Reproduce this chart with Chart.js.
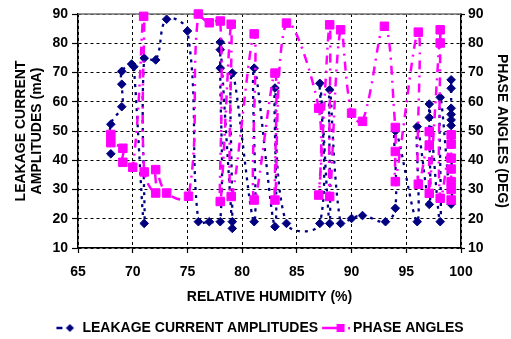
<!DOCTYPE html>
<html>
<head>
<meta charset="utf-8">
<script src="https://cdn.jsdelivr.net/npm/chart.js@4.4.0/dist/chart.umd.min.js"></script>
<style>
  html, body { margin: 0; padding: 0; background: #ffffff; }
  #wrap { width: 511px; height: 339px; }
</style>
</head>
<body>
<div id="wrap"><canvas id="chart" width="511" height="339"></canvas></div>
<script>
// Axis ranges / tick steps
const humidityTicks = [65, 70, 75, 80, 85, 90, 95, 100];
const valueTicks = [10, 20, 30, 40, 50, 60, 70, 80, 90];

// Leakage current amplitude (mA) versus relative humidity (%)
const leakHumidity = [68.0, 68.0, 69.0, 69.0, 69.0, 69.9, 70.1, 71.05, 71.05, 72.1,
  73.1, 75.0, 76.0, 77.0, 78.0, 78.0, 78.0, 78.0, 79.1, 79.1,
  79.1, 81.1, 81.1, 83.0, 83.0, 84.05, 87.1, 87.1, 88.0, 88.0,
  89.0, 90.0, 91.0, 93.1, 94.0, 94.0, 96.0, 96.0, 97.1, 97.1,
  97.1, 98.1, 98.1, 99.1, 99.1, 99.1, 99.1, 99.1, 99.1, 99.1];
const leakCurrent = [42.2, 52.3, 58.3, 66.0, 70.4, 72.9, 72.0, 18.4, 74.9, 74.3,
  88.2, 84.2, 19.0, 19.0, 19.0, 71.5, 77.8, 80.4, 16.7, 19.0,
  69.8, 19.0, 71.5, 17.3, 64.7, 18.4, 18.4, 66.3, 18.4, 64.1,
  18.4, 20.1, 21.1, 19.0, 23.6, 50.0, 19.0, 51.5, 24.9, 54.6,
  59.2, 19.0, 61.5, 25.0, 51.9, 53.8, 55.7, 57.8, 64.6, 67.5];

// Phase angle (deg) versus relative humidity (%)
const phaseHumidity = [68.0, 68.0, 69.1, 69.1, 70.0, 71.0, 71.05, 72.1, 72.1, 73.1,
  75.1, 76.0, 77.0, 78.0, 78.0, 79.0, 79.0, 81.1, 81.1, 83.0,
  83.0, 84.05, 87.0, 87.0, 88.0, 88.0, 89.0, 90.0, 91.0, 93.0,
  94.0, 94.0, 94.0, 96.1, 96.1, 97.1, 97.1, 97.1, 98.1, 98.1,
  98.1, 99.1, 99.1, 99.1, 99.1, 99.1, 99.1, 99.1];
const phaseAngle = [48.8, 46.0, 44.1, 39.3, 37.6, 89.2, 36.0, 28.8, 36.8, 28.8,
  27.7, 90.0, 87.0, 87.6, 25.9, 86.5, 27.6, 83.2, 26.4, 69.8,
  26.4, 86.9, 57.8, 28.1, 86.3, 27.6, 84.6, 56.1, 53.3, 85.8,
  51.2, 43.0, 32.7, 83.8, 31.8, 49.8, 45.2, 28.7, 84.6, 80.1,
  27.0, 48.7, 45.5, 40.7, 37.0, 32.7, 30.0, 26.4];

const NAVY = '#000080';
const MAGENTA = '#FF00FF';
const FONT = { family: '"Liberation Sans", Arial, Helvetica, sans-serif', size: 14, weight: 'bold' };

const toPoints = (xs, ys) => xs.map((x, i) => ({ x: x, y: ys[i] }));

// Legend swatches: short line sample with the series marker
function makeSwatch(width, draw) {
  const c = document.createElement('canvas');
  c.width = width; c.height = 14;
  draw(c.getContext('2d'));
  return c;
}
const leakSwatch = makeSwatch(28, g => {
  g.strokeStyle = NAVY; g.lineWidth = 2.5;
  g.beginPath(); g.moveTo(9, 7); g.lineTo(15, 7); g.stroke();
  g.fillStyle = NAVY;
  g.beginPath(); g.moveTo(22.5, 3); g.lineTo(26.5, 7); g.lineTo(22.5, 11); g.lineTo(18.5, 7); g.closePath(); g.fill();
});
const phaseSwatch = makeSwatch(36, g => {
  g.strokeStyle = MAGENTA; g.lineWidth = 2.5;
  g.beginPath(); g.moveTo(8, 7); g.lineTo(23, 7); g.stroke();
  g.fillStyle = MAGENTA;
  g.fillRect(22.5, 3, 8, 8);
  g.fillRect(34, 6, 2, 2.5);
});
const swatches = [leakSwatch, phaseSwatch];

// Solid top edge of the plot frame
const frameTop = {
  id: 'frameTop',
  beforeDatasetsDraw(chart) {
    const { ctx, chartArea: a } = chart;
    ctx.save();
    ctx.strokeStyle = '#707070';
    ctx.lineWidth = 1.5;
    ctx.beginPath();
    ctx.moveTo(a.left, a.top);
    ctx.lineTo(a.right, a.top);
    ctx.stroke();
    ctx.restore();
  }
};

const gridCommon = {
  color: '#000000',
  lineWidth: 1,
  tickColor: '#000000',
  tickWidth: 1.2,
  tickBorderDash: []
};

new Chart(document.getElementById('chart'), {
  type: 'line',
  data: {
    datasets: [
      {
        label: 'LEAKAGE CURRENT AMPLITUDES',
        data: toPoints(leakHumidity, leakCurrent),
        yAxisID: 'y',
        borderColor: NAVY,
        backgroundColor: NAVY,
        borderWidth: 2.3,
        borderDash: [3, 5],
        tension: 0.4,
        pointStyle: 'rectRot',
        pointRadius: 4.3,
        pointBorderWidth: 1,
        pointBackgroundColor: NAVY,
        pointBorderColor: NAVY,
        fill: false,
        clip: 8,
        order: 2
      },
      {
        label: 'PHASE ANGLES',
        data: toPoints(phaseHumidity, phaseAngle),
        yAxisID: 'y2',
        borderColor: MAGENTA,
        backgroundColor: MAGENTA,
        borderWidth: 2.5,
        borderDash: [9, 6, 2, 6],
        tension: 0.4,
        pointStyle: 'rect',
        pointRadius: 6,
        pointBorderWidth: 1,
        pointBackgroundColor: MAGENTA,
        pointBorderColor: MAGENTA,
        fill: false,
        clip: 8,
        order: 1
      }
    ]
  },
  options: {
    responsive: false,
    animation: false,
    events: [],
    layout: { padding: { top: 14, left: 0, right: 0, bottom: 0 } },
    plugins: {
      tooltip: { enabled: false },
      legend: {
        position: 'bottom',
        maxHeight: 18,
        labels: {
          usePointStyle: true,
          pointStyleWidth: 28,
          padding: 0,
          color: '#000000',
          font: FONT,
          sort: (a, b) => a.datasetIndex - b.datasetIndex,
          generateLabels(chart) {
            const items = Chart.defaults.plugins.legend.labels.generateLabels(chart);
            items.forEach(it => { it.pointStyle = swatches[it.datasetIndex]; it.rotation = 0; });
            return items;
          }
        }
      }
    },
    scales: {
      x: {
        type: 'linear',
        position: 'bottom',
        min: humidityTicks[0],
        max: humidityTicks[humidityTicks.length - 1],
        afterBuildTicks: s => { s.ticks = humidityTicks.map(v => ({ value: v })); },
        ticks: { color: '#000000', font: FONT, padding: 11, maxRotation: 0 },
        grid: Object.assign({ tickLength: 5 }, gridCommon),
        border: { display: true, color: '#000000', width: 1.5, dash: [3, 3] },
        title: {
          display: true,
          text: 'RELATIVE HUMIDITY (%)',
          color: '#000000',
          font: FONT,
          padding: { top: 0, bottom: 15.6 }
        },
        afterFit: s => { s.height = 73; }
      },
      y: {
        type: 'linear',
        position: 'left',
        min: valueTicks[0],
        max: valueTicks[valueTicks.length - 1],
        afterBuildTicks: s => { s.ticks = valueTicks.map(v => ({ value: v })); },
        ticks: { color: '#000000', font: FONT, padding: 4 },
        grid: Object.assign({ tickLength: 6 }, gridCommon),
        border: { display: true, color: '#000000', width: 1.5, dash: [3, 3] },
        title: {
          display: true,
          text: ['LEAKAGE CURRENT', 'AMPLITUDES (mA)'],
          color: '#000000',
          font: Object.assign({ lineHeight: 1.14 }, FONT),
          padding: { top: 13.5, bottom: 0 }
        },
        afterFit: s => { s.width = 78; }
      },
      y2: {
        type: 'linear',
        position: 'right',
        min: valueTicks[0],
        max: valueTicks[valueTicks.length - 1],
        afterBuildTicks: s => { s.ticks = valueTicks.map(v => ({ value: v })); },
        ticks: { color: '#000000', font: FONT, padding: 3 },
        grid: Object.assign({ tickLength: 4, drawOnChartArea: false }, gridCommon),
        border: { display: true, color: '#000000', width: 1.5 },
        title: {
          display: true,
          text: 'PHASE ANGLES (DEG)',
          color: '#000000',
          font: FONT,
          padding: { top: 1, bottom: 0 }
        },
        afterFit: s => { s.width = 50; }
      }
    }
  },
  plugins: [frameTop]
});
</script>
</body>
</html>
